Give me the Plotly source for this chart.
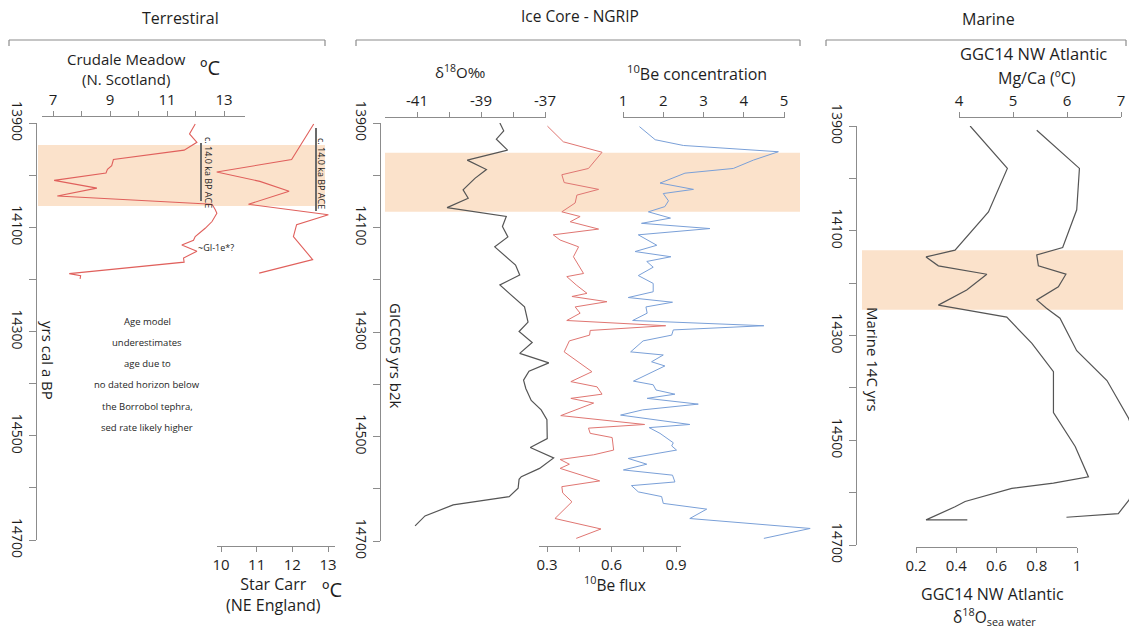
import plotly.graph_objects as go

# ---------------- data ----------------
# Terrestrial: Crudale Meadow (N. Scotland) and Star Carr (NE England), yrs cal a BP
crudale_age = [13902, 13921, 13937, 13952, 13970, 13982, 13989, 13996, 14010, 14025,
               14040, 14056, 14066, 14073, 14089, 14102, 14118, 14125, 14134, 14146,
               14159, 14167, 14189, 14193, 14199]
crudale_temp = [11.99, 11.79, 12.05, 11.60, 9.12, 9.06, 8.91, 8.86, 7.04, 8.54,
                7.15, 12.58, 12.69, 12.75, 12.58, 12.34, 11.99, 11.93, 11.52, 12.05,
                11.58, 11.60, 7.57, 7.97, 7.95]

starcarr_age = [13902, 13970, 13994, 14012, 14031, 14056, 14076, 14095, 14118, 14162, 14188]
starcarr_temp = [12.60, 11.98, 9.88, 11.09, 11.91, 10.77, 13.01, 12.12, 12.03, 12.57, 11.07]

# Ice core NGRIP, GICC05 yrs b2k
d18o_age = [13900, 13915, 13931, 13952, 13971, 13989, 14006, 14028, 14044, 14062,
            14079, 14098, 14118, 14137, 14172, 14191, 14210, 14252, 14281, 14299,
            14320, 14341, 14359, 14375, 14392, 14408, 14431, 14449, 14468, 14504,
            14521, 14541, 14561, 14577, 14582, 14599, 14615, 14631, 14652, 14671]
d18o = [-38.41, -38.29, -38.52, -38.17, -39.43, -38.83, -39.19, -39.56, -39.40, -40.06,
        -38.21, -38.33, -38.16, -38.57, -37.92, -37.79, -38.41, -37.64, -37.53, -37.81,
        -37.40, -37.79, -36.88, -37.50, -37.67, -37.60, -37.43, -37.12, -36.94, -36.93,
        -37.46, -36.73, -37.17, -37.74, -37.81, -37.84, -38.12, -39.87, -40.75, -41.06]

beflux_age = [13906, 13936, 13956, 13987, 13999, 14014, 14027, 14038, 14053, 14070,
              14079, 14089, 14103, 14114, 14124, 14137, 14156, 14188, 14194, 14210,
              14226, 14232, 14242, 14252, 14264, 14278, 14288, 14297, 14306, 14317,
              14338, 14376, 14395, 14405, 14419, 14427, 14436, 14460, 14477, 14484,
              14494, 14502, 14526, 14535, 14544, 14553, 14561, 14585, 14596, 14608,
              14625, 14657, 14677, 14695]
beflux = [0.302, 0.376, 0.556, 0.493, 0.369, 0.380, 0.540, 0.439, 0.431, 0.369,
          0.454, 0.408, 0.540, 0.329, 0.361, 0.447, 0.423, 0.470, 0.392, 0.436,
          0.486, 0.416, 0.579, 0.431, 0.454, 0.392, 0.852, 0.501, 0.498, 0.404,
          0.380, 0.509, 0.411, 0.533, 0.556, 0.411, 0.517, 0.364, 0.754, 0.493,
          0.501, 0.603, 0.610, 0.517, 0.361, 0.404, 0.361, 0.545, 0.369, 0.373,
          0.416, 0.337, 0.551, 0.436]

beconc_age = [13907, 13932, 13943, 13955, 13971, 13987, 13996, 14015, 14027, 14035,
              14049, 14060, 14070, 14082, 14092, 14102, 14114, 14134, 14146, 14156,
              14165, 14176, 14192, 14207, 14223, 14234, 14243, 14252, 14264, 14278,
              14288, 14296, 14306, 14317, 14338, 14344, 14357, 14365, 14394, 14401,
              14411, 14419, 14427, 14438, 14449, 14459, 14477, 14483, 14494, 14504,
              14512, 14518, 14526, 14542, 14553, 14564, 14574, 14587, 14594, 14606,
              14615, 14628, 14639, 14657, 14676, 14695]
beconc = [1.41, 1.80, 2.50, 4.86, 4.24, 3.74, 2.54, 1.92, 2.75, 2.00,
          2.13, 2.04, 1.63, 2.18, 1.46, 3.16, 1.38, 1.84, 1.30, 2.19,
          1.59, 1.75, 1.38, 1.75, 1.75, 1.13, 2.23, 1.57, 1.60, 1.24,
          4.50, 2.25, 2.21, 1.50, 1.19, 2.00, 1.71, 2.04, 1.26, 1.75,
          1.82, 2.29, 1.60, 2.87, 1.49, 0.94, 2.66, 1.65, 1.92, 2.09,
          2.25, 2.21, 2.33, 1.13, 1.59, 1.01, 2.23, 2.29, 1.21, 1.38,
          1.96, 2.00, 3.08, 2.66, 5.65, 4.50]

# Marine: GGC14 NW Atlantic, marine 14C yrs
d18osw_age = [13900, 13981, 14064, 14137, 14150, 14167, 14183, 14213, 14242, 14251,
              14265, 14315, 14369, 14447, 14512, 14570, 14582, 14592, 14617, 14627,
              14652, 14652]
d18osw = [0.469, 0.654, 0.560, 0.394, 0.250, 0.311, 0.552, 0.452, 0.311, 0.452,
          0.651, 0.776, 0.883, 0.883, 0.991, 1.057, 0.883, 0.676, 0.444, 0.394,
          0.250, 0.455]

mgca_age = [13908, 13981, 14060, 14132, 14146, 14167, 14183, 14207, 14232, 14248,
            14267, 14329, 14386, 14458, 14535, 14614, 14640, 14647]
mgca = [5.44, 6.23, 6.18, 5.92, 5.44, 5.47, 5.98, 5.84, 5.44, 5.62,
        5.87, 6.18, 6.74, 7.14, 7.40, 7.15, 6.95, 5.99]

# shaded intervals (age limits) per panel
band_terrestrial = [13942, 14059]
band_icecore = [13957, 14070]
band_marine = [14137, 14251]

# labelled ticks and unlabelled (minor) ticks for each scale
age_ticks = [13900, 14100, 14300, 14500, 14700]
age_minor = [14000, 14200, 14400, 14600]
crudale_ticks = [7, 9, 11, 13]
crudale_minor = [8, 10, 12]
starcarr_ticks = [10, 11, 12, 13]
starcarr_minor = []
d18o_ticks = [-41, -39, -37]
d18o_minor = [-40, -38]
beconc_ticks = [1, 2, 3, 4, 5]
beconc_minor = []
beflux_ticks = [0.3, 0.6, 0.9]
beflux_minor = [0.45, 0.75]
mgca_ticks = [4, 5, 6, 7]
mgca_minor = []
d18osw_ticks = [0.2, 0.4, 0.6, 0.8, 1.0]
d18osw_labels = ['0.2', '0.4', '0.6', '0.8', '1']
d18osw_minor = []

# ---------------- layout helpers ----------------
W, H = 1129, 628
FONT = 'Open Sans'
TXT = '#1e1e1e'
AX = '#8c8c8c'


def fx(p):
    return p / W


def fy(p):
    return 1 - p / H


def lin(va, pa, vb, pb, p):
    return va + (p - pa) * (vb - va) / (pb - pa)


def minor_ticks(vals, length):
    return dict(tickmode='array', tickvals=vals, ticks='outside' if vals else '',
                ticklen=length, tickcolor=AX, tickwidth=1, showgrid=False)


layout = dict(
    template='none',
    width=W, height=H, margin=dict(l=0, r=0, t=0, b=0, pad=0, autoexpand=False),
    paper_bgcolor='white', plot_bgcolor='rgba(0,0,0,0)',
    showlegend=False, font=dict(family=FONT, color=TXT),
)

# shared age (vertical) axes for the three panels
panels = [('yaxis', 123, 540, 36), ('yaxis2', 123, 541, 380), ('yaxis3', 126, 545, 856)]
for key, top, bot, xpos in panels:
    layout[key] = dict(
        domain=[fy(bot), fy(top)], range=[14700, 13900], anchor='free', position=fx(xpos),
        side='left', showline=True, linecolor=AX, linewidth=1, ticks='outside', ticklen=7,
        tickcolor=AX, tickwidth=1, tickmode='array', tickvals=age_ticks,
        ticktext=[str(v) for v in age_ticks], minor=minor_ticks(age_minor, 7),
        tickangle=90, tickfont=dict(family=FONT, size=14, color=TXT),
        showgrid=False, zeroline=False, fixedrange=True, automargin=False,
    )

panel_span = {'y': (37, 340), 'y2': (381, 815), 'y3': (857, 1129)}

# each series: values, styling, panel, calibration (value, pixel) pairs, visible axis extent
series = [
    dict(age=crudale_age, val=crudale_temp, color='#e0605c', width=1.1, y='y',
         cal=(7, 53, 13, 224), disp=(42, 245), side='top', apos=116,
         ticks=crudale_ticks, minor=crudale_minor),
    dict(age=starcarr_age, val=starcarr_temp, color='#e0605c', width=1.1, y='y',
         cal=(10, 221, 13, 328), disp=(217, 335), side='bottom', apos=546,
         ticks=starcarr_ticks, minor=starcarr_minor),
    dict(age=d18o_age, val=d18o, color='#555555', width=1.2, y='y2',
         cal=(-41, 417, -37, 545), disp=(385, 546), side='top', apos=117,
         ticks=d18o_ticks, minor=d18o_minor),
    dict(age=beflux_age, val=beflux, color='#e07672', width=1.0, y='y2',
         cal=(0.3, 547, 0.9, 676), disp=(539, 681), side='bottom', apos=546,
         ticks=beflux_ticks, minor=beflux_minor),
    dict(age=beconc_age, val=beconc, color='#7aa0d8', width=1.0, y='y2',
         cal=(1, 623, 5, 784), disp=(623, 785), side='top', apos=117,
         ticks=beconc_ticks, minor=beconc_minor),
    dict(age=mgca_age, val=mgca, color='#555555', width=1.2, y='y3',
         cal=(4, 959, 7, 1121), disp=(959, 1121), side='top', apos=117,
         ticks=mgca_ticks, minor=mgca_minor),
    dict(age=d18osw_age, val=d18osw, color='#555555', width=1.2, y='y3',
         cal=(0.2, 916, 1.0, 1077), disp=(916, 1077), side='bottom', apos=547,
         ticks=d18osw_ticks, minor=d18osw_minor, labels=d18osw_labels),
]

n = len(series)
for i, s in enumerate(series):
    va, pa, vb, pb = s['cal']
    q0, q1 = panel_span[s['y']]
    d0, d1 = s['disp']
    data_id = i + 1
    disp_id = i + 1 + n
    # hidden data axis spanning the whole panel width (same scale as the visible one)
    layout['xaxis' if data_id == 1 else f'xaxis{data_id}'] = dict(
        domain=[fx(q0), fx(q1)], range=[lin(va, pa, vb, pb, q0), lin(va, pa, vb, pb, q1)],
        anchor='free', position=0, visible=False, fixedrange=True, automargin=False,
    )
    # visible value axis
    layout[f'xaxis{disp_id}'] = dict(
        domain=[fx(d0), fx(d1)], range=[lin(va, pa, vb, pb, d0), lin(va, pa, vb, pb, d1)],
        anchor='free', position=fy(s['apos']), side=s['side'], showline=True, linecolor=AX,
        linewidth=1, ticks='outside', ticklen=5, tickcolor=AX, tickwidth=1,
        tickmode='array', tickvals=s['ticks'],
        ticktext=s.get('labels', [f'{v:g}' for v in s['ticks']]),
        minor=minor_ticks(s['minor'], 5),
        tickfont=dict(family=FONT, size=15, color=TXT),
        showgrid=False, zeroline=False, fixedrange=True, automargin=False,
    )
    s['xref'] = 'x' if data_id == 1 else f'x{data_id}'
    s['xdisp'] = f'x{disp_id}'

fig = go.Figure()
for s in series:
    fig.add_trace(go.Scatter(
        x=s['val'], y=s['age'], xaxis=s['xref'], yaxis=s['y'], mode='lines',
        line=dict(color=s['color'], width=s['width']), hoverinfo='skip',
    ))
    fig.add_trace(go.Scatter(
        x=[None], y=[None], xaxis=s['xdisp'], yaxis=s['y'], mode='lines', hoverinfo='skip',
    ))

# ---------------- shapes ----------------
shapes = []
for (xa, xb, yref, band) in [(38, 325, 'y', band_terrestrial),
                             (385, 800, 'y2', band_icecore),
                             (862, 1123, 'y3', band_marine)]:
    shapes.append(dict(type='rect', xref='paper', yref=yref, x0=fx(xa), x1=fx(xb),
                       y0=band[0], y1=band[1], fillcolor='#fbe2cb', line=dict(width=0),
                       layer='below'))

# group brackets above each panel
for xa, xb in [(9, 325), (356, 800), (826, 1126)]:
    shapes.append(dict(type='line', xref='paper', yref='paper', x0=fx(xa), x1=fx(xb),
                       y0=fy(40), y1=fy(40), line=dict(color=AX, width=1.2)))
    for xe in (xa, xb):
        shapes.append(dict(type='line', xref='paper', yref='paper', x0=fx(xe), x1=fx(xe),
                           y0=fy(40), y1=fy(46), line=dict(color=AX, width=1.2)))

# age-control markers
for xm, ya, yb in [(201, 143, 201), (316, 128, 211)]:
    shapes.append(dict(type='line', xref='paper', yref='paper', x0=fx(xm), x1=fx(xm),
                       y0=fy(ya), y1=fy(yb), line=dict(color='#6a6a6a', width=2)))

layout['shapes'] = shapes


# ---------------- text ----------------
def ann(text, x, y, size, angle=0, color=TXT):
    return dict(text=text, x=fx(x), y=fy(y), xref='paper', yref='paper', showarrow=False,
                xanchor='center', yanchor='middle', textangle=angle, align='center',
                font=dict(family=FONT, size=size, color=color))


annotations = [
    ann('Terrestiral', 180, 18, 16),
    ann('Ice Core - NGRIP', 580, 16, 15.5),
    ann('Marine', 988, 19, 16),
    ann('Crudale Meadow<br>(N. Scotland)', 126, 69, 15),
    ann('ºC', 210, 68, 20),
    ann('Star Carr<br>(NE England)', 273, 594, 16),
    ann('ºC', 332, 589, 20),
    ann('δ<sup>18</sup>O‰', 460, 72, 15),
    ann('<sup>10</sup>Be concentration', 697, 73, 16),
    ann('<sup>10</sup>Be flux', 615, 584, 15.5),
    ann('GGC14 NW Atlantic', 1033, 54, 16.5),
    ann('Mg/Ca (ºC)', 1037, 78, 16),
    ann('GGC14 NW Atlantic', 992, 594, 16),
    ann('δ<sup>18</sup>O<sub>sea water</sub>', 994, 616, 15.5),
    ann('yrs cal a BP', 48, 360, 15, 90),
    ann('GICC05 yrs b2k', 396, 355, 15, 90),
    ann('Marine 14C yrs', 873, 359, 15, 90),
    ann('c. 14.0 ka BP ACE', 208, 172, 9, 90),
    ann('c. 14.0 ka BP ACE', 322, 173, 9, 90),
    ann('~GI-1e*?', 216, 247, 9),
]
age_note = ['Age model', 'underestimates', 'age due to', 'no dated horizon below',
            'the Borrobol tephra,', 'sed rate likely higher']
for k, line in enumerate(age_note):
    annotations.append(ann(line, 147, 321 + k * 21.3, 9.5))
layout['annotations'] = annotations

fig.update_layout(**layout)
fig.write_html('out.html')
